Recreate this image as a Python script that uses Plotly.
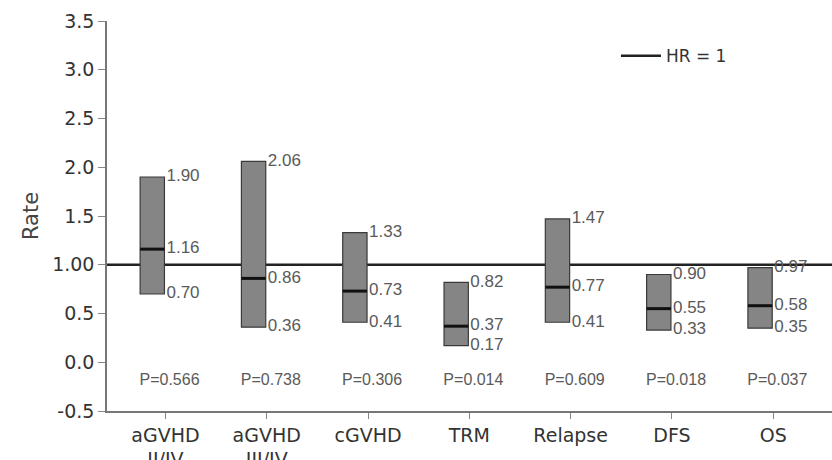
import plotly.graph_objects as go

categories = ["aGVHD<br>II/IV", "aGVHD<br>III/IV", "cGVHD", "TRM", "Relapse", "DFS", "OS"]
lower = [0.70, 0.36, 0.41, 0.17, 0.41, 0.33, 0.35]
median = [1.16, 0.86, 0.73, 0.37, 0.77, 0.55, 0.58]
upper = [1.90, 2.06, 1.33, 0.82, 1.47, 0.90, 0.97]
p_values = ["P=0.566", "P=0.738", "P=0.306", "P=0.014", "P=0.609", "P=0.018", "P=0.037"]
y_tick_vals = [-0.5, 0.0, 0.5, 1.0, 1.5, 2.0, 2.5, 3.0, 3.5]
y_tick_text = ["-0.5", "0.0", "0.5", "1.00", "1.5", "2.0", "2.5", "3.0", "3.5"]
hr_value = 1.0
p_label_y = -0.19

BOX_OFF = -0.13
BOX_W = 0.24
P_OFF = 0.04
XMIN, XMAX = -0.577, 6.58

idx = list(range(len(categories)))
box_x = [i + BOX_OFF for i in idx]

fig = go.Figure()

# boxes
fig.add_trace(go.Bar(
    x=box_x, y=[u - l for u, l in zip(upper, lower)], base=lower,
    width=BOX_W, marker=dict(color="#858585", line=dict(color="#3a3a3a", width=1.2)),
    showlegend=False, hoverinfo="skip"))

# median lines
mx, my = [], []
for x, m in zip(box_x, median):
    mx += [x - BOX_W / 2, x + BOX_W / 2, None]
    my += [m, m, None]
fig.add_trace(go.Scatter(x=mx, y=my, mode="lines", line=dict(color="#111111", width=3),
                         showlegend=False, hoverinfo="skip"))

# value labels
lab_x, lab_y, lab_t = [], [], []
for x, l, m, u in zip(box_x, lower, median, upper):
    for v in (u, m, l):
        lab_x.append(x + BOX_W / 2 + 0.02)
        lab_y.append(v)
        lab_t.append(f"{v:.2f}")
fig.add_trace(go.Scatter(x=lab_x, y=lab_y, text=lab_t, mode="text", textposition="middle right",
                         textfont=dict(family="Liberation Sans", size=17, color="#5a5a5a"),
                         showlegend=False, hoverinfo="skip"))

# P-values
fig.add_trace(go.Scatter(x=[i + P_OFF for i in idx], y=[p_label_y] * len(idx), text=p_values,
                         mode="text", textposition="middle center",
                         textfont=dict(family="Liberation Sans", size=16, color="#5a5a5a"),
                         showlegend=False, hoverinfo="skip"))

# HR = 1 reference line (behind boxes)
fig.add_shape(type="line", xref="x", yref="y", x0=XMIN, x1=XMAX, y0=hr_value, y1=hr_value,
              line=dict(color="#222222", width=2.5), layer="below",
              showlegend=True, name="HR = 1")

fig.update_layout(
    width=832, height=460,
    margin=dict(l=107, r=0, t=21, b=49, autoexpand=False),
    paper_bgcolor="white", plot_bgcolor="white",
    font=dict(family="DejaVu Sans", color="#333333"),
    showlegend=True,
    legend=dict(x=0.702, y=0.91, xanchor="left", yanchor="middle", itemwidth=40,
                font=dict(family="DejaVu Sans", size=17, color="#333333"),
                bgcolor="rgba(0,0,0,0)"),
    xaxis=dict(range=[XMIN, XMAX], tickvals=idx, ticktext=categories, automargin=False,
               showgrid=False, zeroline=False, showline=True, linecolor="#777777", linewidth=1.5,
               ticks="outside", ticklen=6, tickcolor="#888888",
               tickfont=dict(family="DejaVu Sans", size=19, color="#333333")),
    yaxis=dict(range=[-0.5, 3.5], tickvals=y_tick_vals, ticktext=y_tick_text, automargin=False,
               showgrid=False, zeroline=False, showline=True, linecolor="#777777", linewidth=1.5,
               ticks="outside", ticklen=7, tickcolor="#888888",
               tickfont=dict(family="DejaVu Sans", size=19, color="#333333"),
               title=dict(text="Rate", font=dict(family="DejaVu Sans", size=21, color="#444444"),
                          standoff=8)),
)

fig.write_html("out.html")
